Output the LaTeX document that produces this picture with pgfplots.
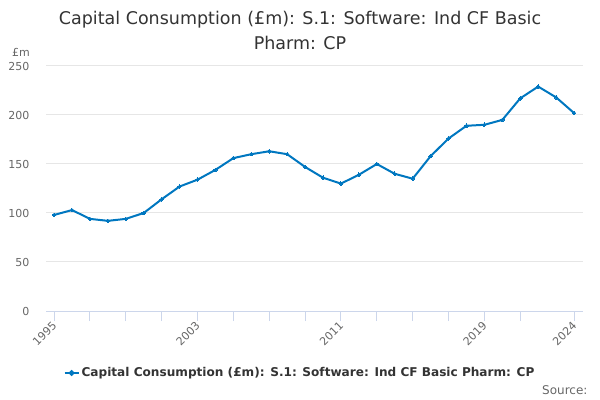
\documentclass[border=0pt]{standalone}
\usepackage{pgfplots}
\pgfplotsset{compat=1.18}
\usepackage{fontspec}
\setmainfont{DejaVu Sans}
\definecolor{linec}{HTML}{0077C0}
\definecolor{gridc}{HTML}{E6E6E6}
\definecolor{tickc}{HTML}{CCD6EB}
\definecolor{labc}{HTML}{666666}
\definecolor{titc}{HTML}{333333}
\begin{document}
\begin{tikzpicture}
\path[use as bounding box] (0bp,0bp) rectangle (600bp,400bp);
\node[text=titc, align=center, font=\fontsize{17.5bp}{25bp}\selectfont] at (300bp,370bp) {Capital Consumption (£m): S.1: Software: Ind CF Basic\\Pharm: CP};
\node[text=labc, font=\fontsize{11bp}{13bp}\selectfont] at (21bp,348bp) {£m};
\node[text=labc, anchor=east, font=\fontsize{12bp}{14bp}\selectfont] at (591bp,10bp) {Source:};
\begin{axis}[
  at={(46bp,89bp)}, anchor=south west,
  scale only axis, width=537bp, height=245bp,
  xmin=1994.55, xmax=2024.5, ymin=0, ymax=250,
  axis x line*=bottom, axis y line*=left,
  x axis line style={draw=tickc, line width=1bp},
  y axis line style={draw=none},
  xtick={1995,1997,...,2021,2024},
  xticklabels={1995,,,,2003,,,,2011,,,,2019,,2024},
  ytick={0,50,...,250},
  tick align=outside,
  major tick length=10bp,
  xtick style={draw=tickc, line width=1bp},
  ytick style={draw=none},
  ymajorgrids, grid style={draw=gridc, line width=1bp},
  /pgf/number format/assume math mode=true,
  tick label style={text=labc, font=\fontsize{11bp}{13bp}\selectfont},
  xticklabel style={rotate=45, anchor=east, yshift=-2bp, xshift=2bp},
  yticklabel style={xshift=-3bp},
  legend style={at={(0.473,-0.253)}, anchor=center, draw=none, fill=none,
    font=\bfseries\fontsize{12.1bp}{15bp}\selectfont, text=titc},
  legend image code/.code={\draw[linec, line width=2bp] (0bp,0bp) -- (14bp,0bp); \fill[linec] (7bp,0bp) circle (1.8bp);},
]
\addplot[linec, line width=2bp, mark=*, mark size=1.8bp, mark options={fill=linec, draw=linec, line width=0pt}] coordinates {
(1995,98) (1996,103) (1997,94) (1998,92) (1999,94) (2000,100)
(2001,114) (2002,127) (2003,134) (2004,144) (2005,156) (2006,160)
(2007,163) (2008,160) (2009,147) (2010,136) (2011,130) (2012,139)
(2013,150) (2014,140) (2015,135) (2016,158) (2017,176) (2018,189)
(2019,190) (2020,195) (2021,217) (2022,229) (2023,218) (2024,202)
};
\addlegendentry{Capital Consumption (£m): S.1: Software: Ind CF Basic Pharm: CP}
\end{axis}
\end{tikzpicture}
\end{document}
